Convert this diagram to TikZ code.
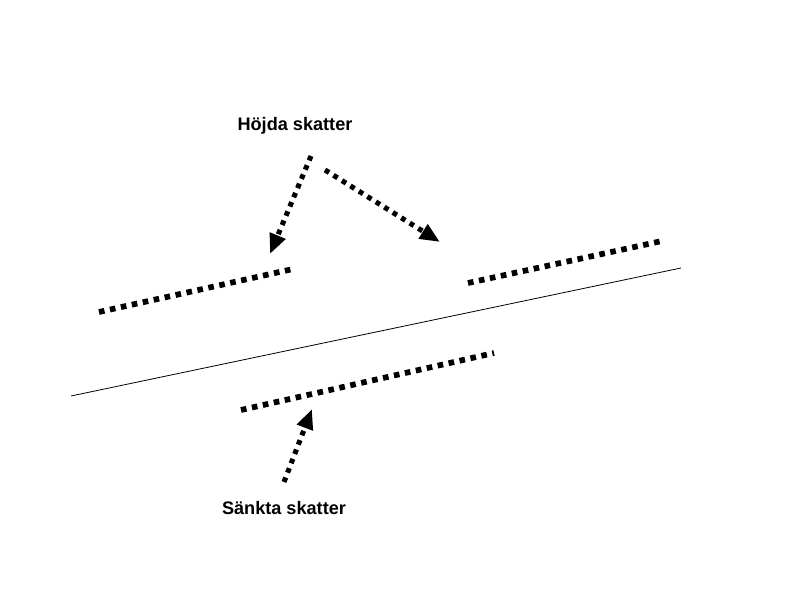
\documentclass[tikz,border=0pt]{standalone}
\usepackage{fontspec}
\setmainfont{Liberation Sans}
\usetikzlibrary{arrows.meta}
\begin{document}
\begin{tikzpicture}[x=0.75pt,y=-0.75pt,
  thinline/.style={line width=0.6pt},
  dotline/.style={line width=4.3pt,dash pattern=on 4.2pt off 4.2pt},
  dotarrow/.style={line width=3.8pt,dash pattern=on 3.6pt off 3.9pt,
    -{Triangle[length=15pt,width=12pt]}},
  lbl/.style={font=\fontsize{13.6}{16}\selectfont\bfseries,inner sep=0pt}]
\useasboundingbox (0,0) rectangle (794,595);
\coordinate (m1) at (71,396);
\coordinate (m2) at (681,268);
\draw[thinline] (m1) -- (m2);
\coordinate (a1) at (99,312); \coordinate (a2) at (293,269);
\coordinate (b1) at (468,283); \coordinate (b2) at (662,241);
\coordinate (c1) at (241,410); \coordinate (c2) at (494,353);
\draw[dotline] (a1) -- (a2);
\draw[dotline] (b1) -- (b2);
\draw[dotline] (c1) -- (c2);
\node[lbl] (h) at (295,126) {Höjda skatter};
\node[lbl] (s) at (284,508) {Sänkta skatter};
\coordinate (h1) at (311,156); \coordinate (h1e) at (270,254);
\coordinate (h2) at (325,170); \coordinate (h2e) at (440,242);
\coordinate (s1) at (284,482); \coordinate (s1e) at (312,409);
\draw[dotarrow] (h1) -- (h1e);
\draw[dotarrow] (h2) -- (h2e);
\draw[dotarrow] (s1) -- (s1e);
\end{tikzpicture}
\end{document}
